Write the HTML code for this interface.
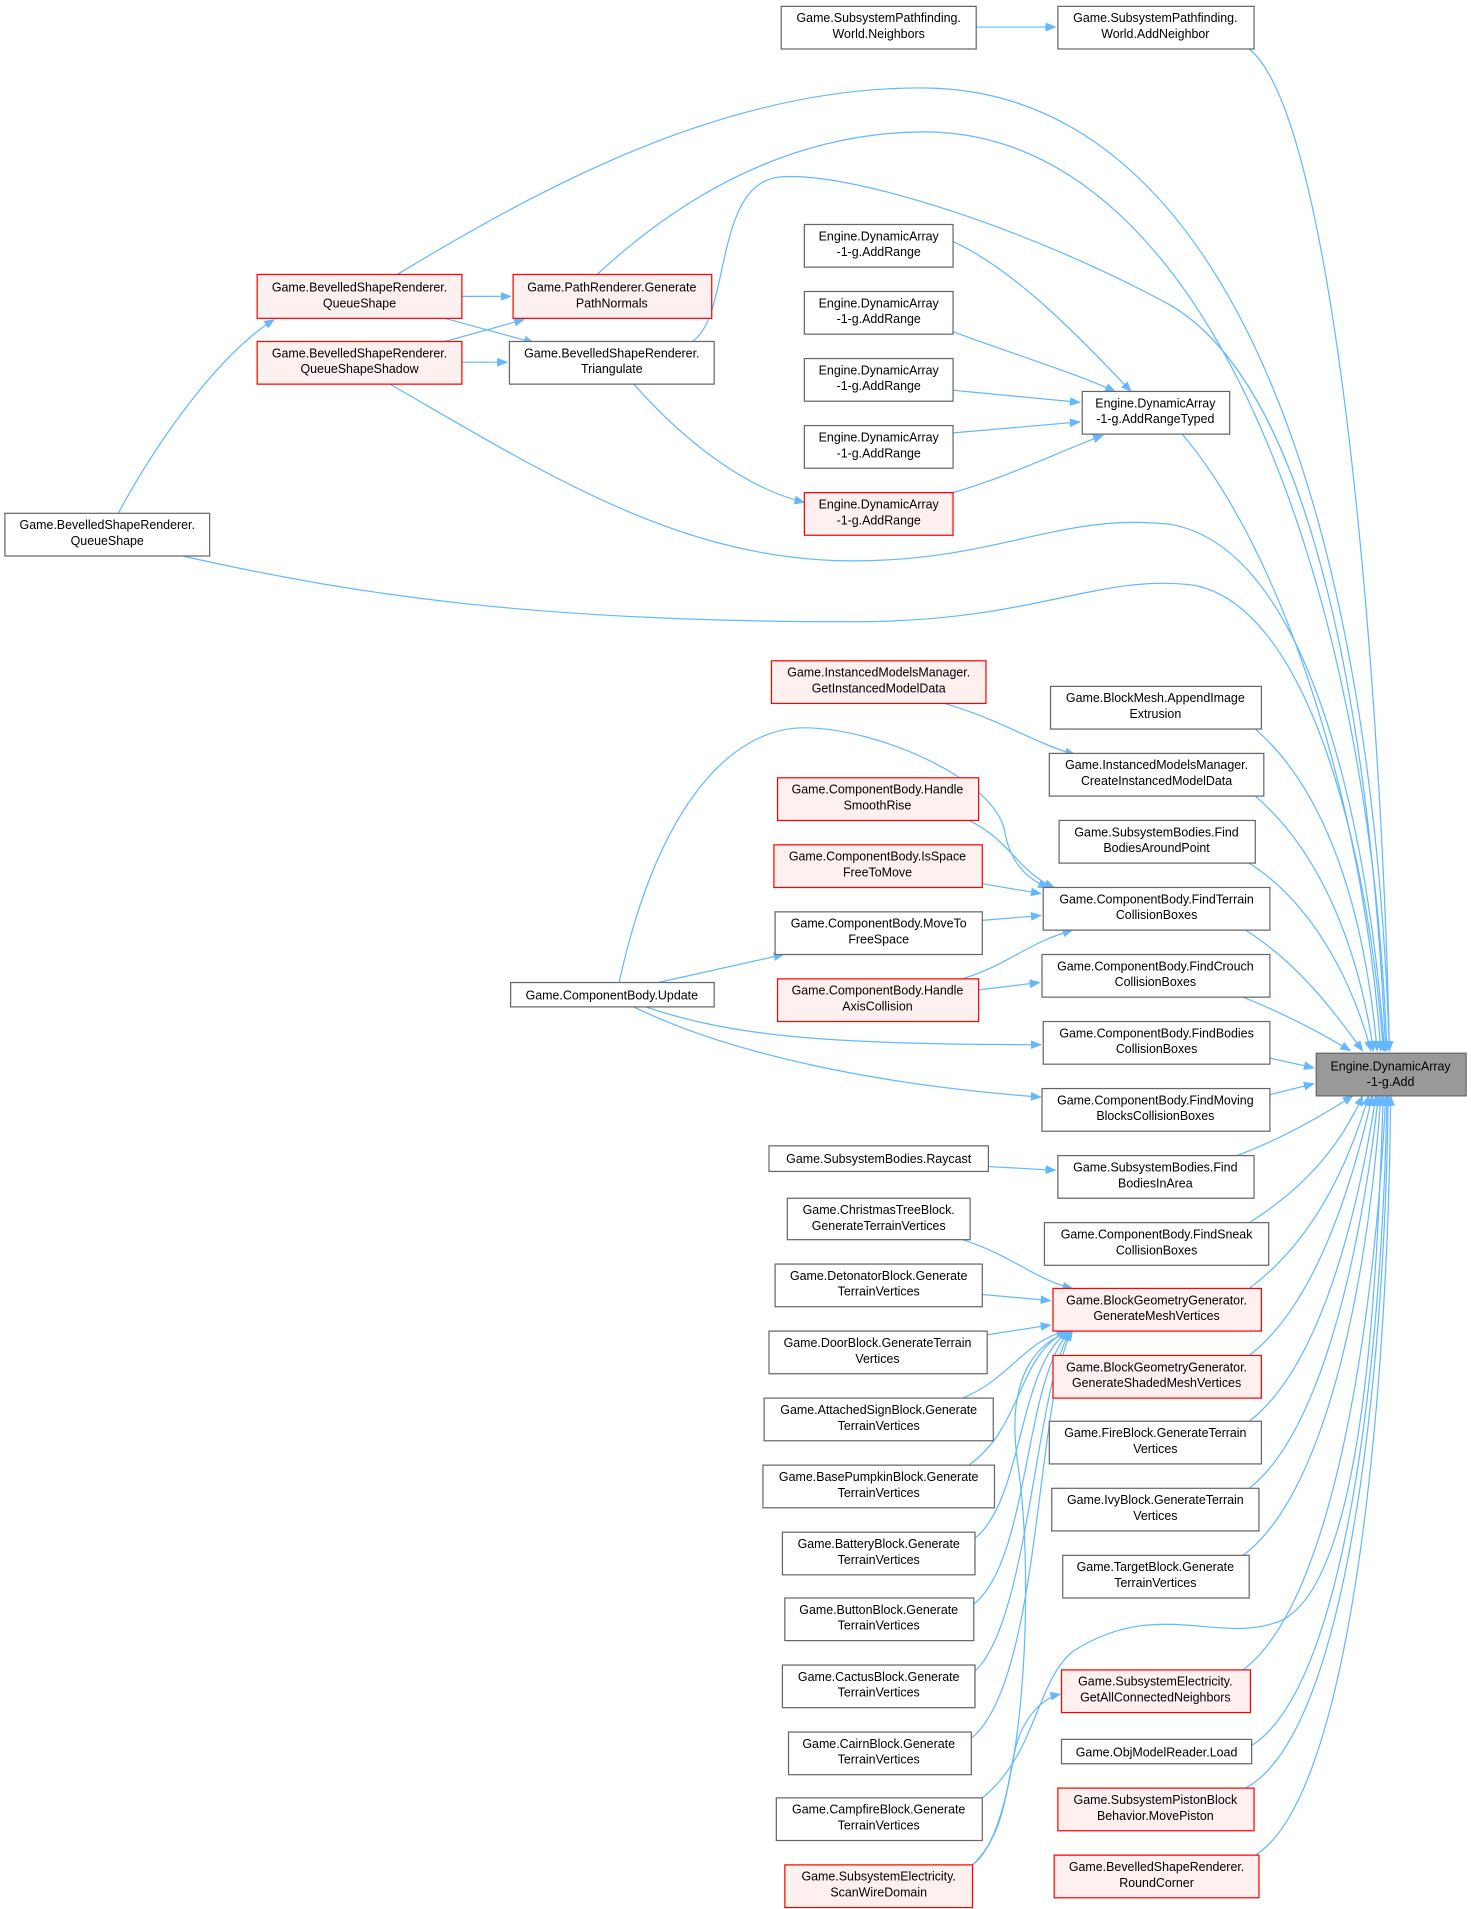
<!DOCTYPE html>
<html><head><meta charset="utf-8"><style>
html,body{margin:0;padding:0;background:#fff;}
svg{display:block;}
text{font-family:"Liberation Sans",Arial,sans-serif;font-size:10.2px;fill:#000;text-anchor:middle;}
.n rect{fill:#fff;stroke:#666;stroke-width:1;}
.r rect{fill:#fff0f0;stroke:#f00;stroke-width:1;}
.g rect{fill:#999;stroke:#666;stroke-width:1;}
path.e{fill:none;stroke:#63b8ff;stroke-width:1;marker-end:url(#a);}
path.f{fill:none;stroke:#63b8ff;stroke-width:1;}
</style></head><body>
<svg width="1471" height="1909" viewBox="0 0 1207 1566" xmlns="http://www.w3.org/2000/svg">
<defs><marker id="a" viewBox="0 0 10 10" refX="9" refY="5" markerWidth="9" markerHeight="9" markerUnits="userSpaceOnUse" orient="auto"><path d="M0,1 L10,5 L0,9 z" fill="#63b8ff"/></marker></defs>

<!-- edges -->
<path class="e" d="M801,22 L866,22"/>
<path class="e" d="M1025,40 C1100,100 1135,600 1140,862"/>
<path class="e" d="M326,225 C450,150 600,70 760,72 C1000,75 1125,400 1140,862"/>
<path class="e" d="M490,225 C560,160 650,108 760,108 C1000,110 1125,500 1138,862"/>
<path class="e" d="M568,280 C600,260 585,150 640,145 C700,140 850,190 960,250 C1080,320 1125,600 1137,862"/>
<path class="e" d="M320,315 C450,390 560,460 700,460 C820,460 870,420 960,430 C1080,450 1125,700 1136,862"/>
<path class="e" d="M150,456 C300,490 450,510 700,510 C850,510 900,470 980,480 C1080,500 1125,720 1135,862"/>
<path class="e" d="M970,356 C1050,450 1118,650 1133,862"/>
<path class="e" d="M1030,598 C1090,650 1120,750 1130,862"/>
<path class="e" d="M1030,653 C1085,700 1115,780 1127,862"/>
<path class="e" d="M1025,708 C1075,740 1108,800 1125,862"/>
<path class="e" d="M1022,763 C1065,790 1095,830 1118,862"/>
<path class="e" d="M1020,818 C1050,830 1080,845 1108,862"/>
<path class="e" d="M1042,868 L1078,876"/>
<path class="e" d="M1042,898 L1078,889"/>
<path class="e" d="M1015,948 C1050,935 1085,915 1110,899"/>
<path class="e" d="M1025,1003 C1070,975 1100,940 1118,899"/>
<path class="e" d="M1025,1057 C1075,1020 1105,960 1123,899"/>
<path class="e" d="M1025,1112 C1080,1070 1110,970 1126,899"/>
<path class="e" d="M1025,1166 C1085,1120 1115,990 1129,899"/>
<path class="e" d="M1025,1221 C1090,1170 1120,1000 1131,899"/>
<path class="e" d="M1020,1276 C1095,1220 1125,1020 1133,899"/>
<path class="e" d="M806,1475 C850,1440 850,1380 880,1355 C950,1310 1000,1350 1050,1330 C1120,1300 1130,1050 1135,899"/>
<path class="e" d="M1020,1370 C1100,1310 1130,1050 1137,899"/>
<path class="e" d="M1027,1432 C1110,1380 1135,1080 1138,899"/>
<path class="e" d="M1022,1467 C1110,1420 1137,1100 1139,899"/>
<path class="e" d="M1030,1522 C1115,1470 1140,1100 1141,899"/>

<path class="e" d="M379,243 L419,243"/>
<path class="e" d="M365,261 L438,281"/>
<path class="e" d="M365,280 L430,262"/>
<path class="e" d="M379,297 L416,297"/>
<path class="e" d="M97,421 C130,360 180,290 225,262"/>
<path class="e" d="M520,315 C560,360 610,400 660,412"/>
<path class="e" d="M782,198 C830,220 880,270 928,321"/>
<path class="e" d="M782,272 C830,290 880,305 915,321"/>
<path class="e" d="M782,320 L886,330"/>
<path class="e" d="M782,355 L886,346"/>
<path class="e" d="M782,404 C830,390 870,370 905,357"/>
<path class="e" d="M775,577 C820,590 850,610 882,619"/>
<path class="e" d="M508,806 C540,660 600,597 660,597 C720,597 820,640 825,685 C830,710 845,722 860,728"/>
<path class="e" d="M795,673 C830,690 835,715 865,728"/>
<path class="e" d="M806,725 L854,733"/>
<path class="e" d="M806,755 L854,751"/>
<path class="e" d="M790,803 C830,790 840,775 880,763"/>
<path class="e" d="M803,812 L853,806"/>
<path class="e" d="M540,806 L643,783"/>
<path class="e" d="M530,826 C600,850 680,857 854,857"/>
<path class="e" d="M520,826 C600,865 720,890 854,900"/>
<path class="e" d="M811,957 L866,960"/>
<path class="e" d="M790,1017 C830,1030 850,1050 880,1057"/>
<path class="e" d="M806,1062 L862,1067"/>
<path class="e" d="M810,1095 L862,1087"/>
<path class="e" d="M790,1147 C830,1130 840,1100 875,1092"/>
<path class="e" d="M795,1202 C840,1170 835,1110 876,1092"/>
<path class="e" d="M800,1262 C840,1230 835,1120 877,1092"/>
<path class="e" d="M799,1316 C845,1280 840,1130 878,1092"/>
<path class="e" d="M800,1371 C845,1330 850,1130 879,1092"/>
<path class="e" d="M797,1426 C855,1380 850,1140 880,1092"/>
<path class="e" d="M798,1530 C840,1500 850,1300 835,1200 C825,1130 850,1100 880,1092"/>
<path class="e" d="M798,1530 C830,1500 825,1450 838,1420 C848,1400 860,1392 870,1390"/>

<!-- nodes -->
<g class="n"><rect x="641" y="5" width="160" height="35"/><text x="721" y="18">Game.SubsystemPathfinding.</text><text x="721" y="31">World.Neighbors</text></g>
<g class="n"><rect x="868" y="5" width="161" height="35"/><text x="948" y="18">Game.SubsystemPathfinding.</text><text x="948" y="31">World.AddNeighbor</text></g>
<g class="r"><rect x="211" y="225" width="168" height="36"/><text x="295" y="239">Game.BevelledShapeRenderer.</text><text x="295" y="252">QueueShape</text></g>
<g class="r"><rect x="421" y="225" width="163" height="36"/><text x="502" y="239">Game.PathRenderer.Generate</text><text x="502" y="252">PathNormals</text></g>
<g class="r"><rect x="211" y="280" width="168" height="35"/><text x="295" y="293">Game.BevelledShapeRenderer.</text><text x="295" y="306">QueueShapeShadow</text></g>
<g class="n"><rect x="418" y="280" width="168" height="35"/><text x="502" y="293">Game.BevelledShapeRenderer.</text><text x="502" y="306">Triangulate</text></g>
<g class="n"><rect x="660" y="184" width="122" height="35"/><text x="721" y="197">Engine.DynamicArray</text><text x="721" y="210">-1-g.AddRange</text></g>
<g class="n"><rect x="660" y="239" width="122" height="35"/><text x="721" y="252">Engine.DynamicArray</text><text x="721" y="265">-1-g.AddRange</text></g>
<g class="n"><rect x="660" y="294" width="122" height="35"/><text x="721" y="307">Engine.DynamicArray</text><text x="721" y="320">-1-g.AddRange</text></g>
<g class="n"><rect x="660" y="349" width="122" height="35"/><text x="721" y="362">Engine.DynamicArray</text><text x="721" y="375">-1-g.AddRange</text></g>
<g class="r"><rect x="660" y="404" width="122" height="35"/><text x="721" y="417">Engine.DynamicArray</text><text x="721" y="430">-1-g.AddRange</text></g>
<g class="n"><rect x="888" y="321" width="121" height="35"/><text x="948" y="334">Engine.DynamicArray</text><text x="948" y="347">-1-g.AddRangeTyped</text></g>
<g class="n"><rect x="4" y="421" width="168" height="35"/><text x="88" y="434">Game.BevelledShapeRenderer.</text><text x="88" y="447">QueueShape</text></g>
<g class="r"><rect x="633" y="542" width="176" height="35"/><text x="721" y="555">Game.InstancedModelsManager.</text><text x="721" y="568">GetInstancedModelData</text></g>
<g class="n"><rect x="862" y="563" width="173" height="35"/><text x="948" y="576">Game.BlockMesh.AppendImage</text><text x="948" y="589">Extrusion</text></g>
<g class="n"><rect x="861" y="618" width="176" height="35"/><text x="949" y="631">Game.InstancedModelsManager.</text><text x="949" y="644">CreateInstancedModelData</text></g>
<g class="n"><rect x="869" y="673" width="161" height="35"/><text x="949" y="686">Game.SubsystemBodies.Find</text><text x="949" y="699">BodiesAroundPoint</text></g>
<g class="r"><rect x="638" y="638" width="165" height="35"/><text x="720" y="651">Game.ComponentBody.Handle</text><text x="720" y="664">SmoothRise</text></g>
<g class="r"><rect x="635" y="693" width="171" height="35"/><text x="720" y="706">Game.ComponentBody.IsSpace</text><text x="720" y="719">FreeToMove</text></g>
<g class="n"><rect x="856" y="728" width="186" height="35"/><text x="949" y="741">Game.ComponentBody.FindTerrain</text><text x="949" y="754">CollisionBoxes</text></g>
<g class="n"><rect x="636" y="748" width="170" height="35"/><text x="721" y="761">Game.ComponentBody.MoveTo</text><text x="721" y="774">FreeSpace</text></g>
<g class="n"><rect x="419" y="806" width="167" height="20"/><text x="502" y="820">Game.ComponentBody.Update</text></g>
<g class="r"><rect x="638" y="803" width="165" height="35"/><text x="720" y="816">Game.ComponentBody.Handle</text><text x="720" y="829">AxisCollision</text></g>
<g class="n"><rect x="855" y="783" width="187" height="35"/><text x="948" y="796">Game.ComponentBody.FindCrouch</text><text x="948" y="809">CollisionBoxes</text></g>
<g class="n"><rect x="856" y="838" width="186" height="35"/><text x="949" y="851">Game.ComponentBody.FindBodies</text><text x="949" y="864">CollisionBoxes</text></g>
<g class="g"><rect x="1080" y="864" width="123" height="35"/><text x="1141" y="878">Engine.DynamicArray</text><text x="1141" y="891">-1-g.Add</text></g>
<g class="n"><rect x="855" y="893" width="187" height="35"/><text x="948" y="906">Game.ComponentBody.FindMoving</text><text x="948" y="919">BlocksCollisionBoxes</text></g>
<g class="n"><rect x="631" y="940" width="180" height="21"/><text x="721" y="954">Game.SubsystemBodies.Raycast</text></g>
<g class="n"><rect x="868" y="948" width="161" height="35"/><text x="948" y="961">Game.SubsystemBodies.Find</text><text x="948" y="974">BodiesInArea</text></g>
<g class="n"><rect x="646" y="983" width="150" height="34"/><text x="721" y="996">Game.ChristmasTreeBlock.</text><text x="721" y="1009">GenerateTerrainVertices</text></g>
<g class="n"><rect x="857" y="1003" width="184" height="35"/><text x="949" y="1016">Game.ComponentBody.FindSneak</text><text x="949" y="1029">CollisionBoxes</text></g>
<g class="n"><rect x="636" y="1037" width="170" height="35"/><text x="721" y="1050">Game.DetonatorBlock.Generate</text><text x="721" y="1063">TerrainVertices</text></g>
<g class="r"><rect x="864" y="1057" width="171" height="35"/><text x="949" y="1070">Game.BlockGeometryGenerator.</text><text x="949" y="1083">GenerateMeshVertices</text></g>
<g class="n"><rect x="631" y="1092" width="179" height="35"/><text x="720" y="1105">Game.DoorBlock.GenerateTerrain</text><text x="720" y="1118">Vertices</text></g>
<g class="r"><rect x="864" y="1112" width="171" height="35"/><text x="949" y="1125">Game.BlockGeometryGenerator.</text><text x="949" y="1138">GenerateShadedMeshVertices</text></g>
<g class="n"><rect x="627" y="1147" width="188" height="35"/><text x="721" y="1160">Game.AttachedSignBlock.Generate</text><text x="721" y="1173">TerrainVertices</text></g>
<g class="n"><rect x="861" y="1166" width="174" height="35"/><text x="948" y="1179">Game.FireBlock.GenerateTerrain</text><text x="948" y="1192">Vertices</text></g>
<g class="n"><rect x="626" y="1202" width="190" height="35"/><text x="721" y="1215">Game.BasePumpkinBlock.Generate</text><text x="721" y="1228">TerrainVertices</text></g>
<g class="n"><rect x="863" y="1221" width="170" height="35"/><text x="948" y="1234">Game.IvyBlock.GenerateTerrain</text><text x="948" y="1247">Vertices</text></g>
<g class="n"><rect x="642" y="1257" width="158" height="35"/><text x="721" y="1270">Game.BatteryBlock.Generate</text><text x="721" y="1283">TerrainVertices</text></g>
<g class="n"><rect x="872" y="1276" width="153" height="35"/><text x="948" y="1289">Game.TargetBlock.Generate</text><text x="948" y="1302">TerrainVertices</text></g>
<g class="n"><rect x="644" y="1311" width="155" height="35"/><text x="721" y="1324">Game.ButtonBlock.Generate</text><text x="721" y="1337">TerrainVertices</text></g>
<g class="n"><rect x="642" y="1366" width="158" height="35"/><text x="721" y="1379">Game.CactusBlock.Generate</text><text x="721" y="1392">TerrainVertices</text></g>
<g class="r"><rect x="871" y="1370" width="155" height="35"/><text x="948" y="1383">Game.SubsystemElectricity.</text><text x="948" y="1396">GetAllConnectedNeighbors</text></g>
<g class="n"><rect x="647" y="1421" width="150" height="35"/><text x="721" y="1434">Game.CairnBlock.Generate</text><text x="721" y="1447">TerrainVertices</text></g>
<g class="n"><rect x="871" y="1427" width="156" height="20"/><text x="949" y="1441">Game.ObjModelReader.Load</text></g>
<g class="n"><rect x="637" y="1475" width="169" height="35"/><text x="721" y="1488">Game.CampfireBlock.Generate</text><text x="721" y="1501">TerrainVertices</text></g>
<g class="r"><rect x="868" y="1467" width="161" height="35"/><text x="948" y="1480">Game.SubsystemPistonBlock</text><text x="948" y="1493">Behavior.MovePiston</text></g>
<g class="r"><rect x="644" y="1530" width="154" height="35"/><text x="721" y="1543">Game.SubsystemElectricity.</text><text x="721" y="1556">ScanWireDomain</text></g>
<g class="r"><rect x="865" y="1522" width="168" height="35"/><text x="949" y="1535">Game.BevelledShapeRenderer.</text><text x="949" y="1548">RoundCorner</text></g>
</svg>
</body></html>
